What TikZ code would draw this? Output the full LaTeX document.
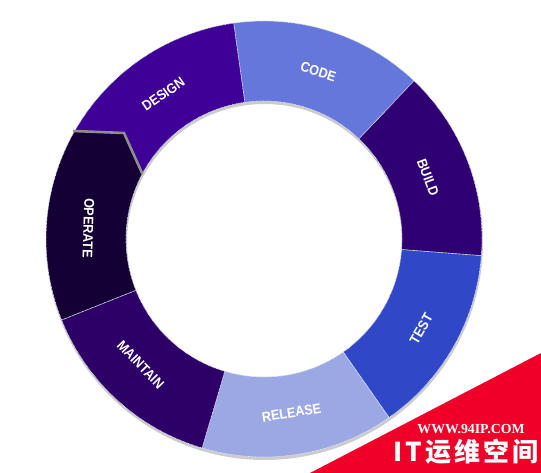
\documentclass[tikz,border=0pt]{standalone}
\usepackage{fontspec}
\setmainfont{Liberation Sans}
\newfontfamily\wmfont{Liberation Serif}
\newfontfamily\cjk{Noto Sans CJK SC}[LetterSpace=12]
\definecolor{cDesign}{HTML}{3F0097}
\definecolor{cCode}{HTML}{6677DB}
\definecolor{cBuild}{HTML}{2F0072}
\definecolor{cTest}{HTML}{3048C8}
\definecolor{cRelease}{HTML}{9BA8E4}
\definecolor{cMaintain}{HTML}{2D0068}
\definecolor{cOperate}{HTML}{140035}
\definecolor{wmred}{HTML}{F00028}
\definecolor{notchgray}{HTML}{8E8E8E}
\newcommand\seglabel[1]{\scalebox{0.9}[1]{#1}}
\tikzset{
  segborder/.style={draw=white!80!cCode, line width=0.7pt, dash pattern=on 0.7pt off 0.7pt},
  lbl/.style={text=white, font=\bfseries\fontsize{14}{14}\selectfont, inner sep=0pt},
}
\begin{document}
\begin{tikzpicture}[x=1pt,y=1pt]
\useasboundingbox (0,0) rectangle (541,473);
\fill[white] (0,0) rectangle (541,473);
\begin{scope}[shift={(264,234)}]
  % shadow
  \fill[gray!40, even odd rule] (0.5,-2.5) circle[radius=218.5] (0.5,-2.5) circle[radius=137.5];
  % CODE
  \path[fill=cCode, segborder] (98:218) arc[start angle=98,end angle=46.5,radius=218] -- (46.5:138) arc[start angle=46.5,end angle=98,radius=138] -- cycle;
  % BUILD
  \path[fill=cBuild, segborder] (46.5:218) arc[start angle=46.5,end angle=-4.4,radius=218] -- (-4.4:138) arc[start angle=-4.4,end angle=46.5,radius=138] -- cycle;
  % TEST
  \path[fill=cTest, segborder] (-4.4:218) arc[start angle=-4.4,end angle=-55,radius=218] -- (-55:138) arc[start angle=-55,end angle=-4.4,radius=138] -- cycle;
  % RELEASE
  \path[fill=cRelease, segborder] (-55:218) arc[start angle=-55,end angle=-106.5,radius=218] -- (-106.5:138) arc[start angle=-106.5,end angle=-55,radius=138] -- cycle;
  % MAINTAIN
  \path[fill=cMaintain, segborder] (-106.5:218) arc[start angle=-106.5,end angle=-158.2,radius=218] -- (-158.2:138) arc[start angle=-158.2,end angle=-106.5,radius=138] -- cycle;
  % OPERATE (with notch)
  \coordinate (p1) at (150.3:218);
  \coordinate (p2) at (-140,106);
  \coordinate (p3) at (151.8:138);
  \path[fill=cOperate, segborder] (201.8:218) arc[start angle=201.8,end angle=150.3,radius=218] -- (p2) -- (p3) arc[start angle=151.8,end angle=201.8,radius=138] -- cycle;
  % DESIGN
  \path[fill=cDesign, segborder] (150.3:218) arc[start angle=150.3,end angle=98,radius=218] -- (98:138) arc[start angle=98,end angle=151.8,radius=138] -- (p2) -- cycle;
  % notch line
  \draw[notchgray, line width=2.6pt, line join=miter] ([shift={(-1.5,0)}]p1) -- (p2) -- (p3);
  % labels
  \node[lbl, rotate=34.5] (design) at (124.8:176.5) {\seglabel{DESIGN}};
  \node[lbl, rotate=-17.9] (code) at (72:176) {\seglabel{CODE}};
  \node[lbl, rotate=-69.5] (build) at (20.5:175) {\seglabel{BUILD}};
  \node[lbl, rotate=60.3] (test) at (-29.7:181) {\seglabel{TEST}};
  \node[lbl, rotate=9] (release) at (-81:176) {\seglabel{RELEASE}};
  \node[lbl, rotate=-46] (maintain) at (225.5:176) {\seglabel{MAINTAIN}};
  \node[lbl, rotate=-92] (operate) at (176.5:176) {\seglabel{OPERATE}};
\end{scope}
% watermark
\fill[wmred] (310,0) -- (541,0) -- (541,120) -- cycle;
\node[text=white, font=\wmfont\bfseries\fontsize{13.8}{13.8}\selectfont, inner sep=0pt] (wmurl) at (471,44) {WWW.94IP.COM};
\node[text=white, font=\cjk\bfseries\fontsize{26}{26}\selectfont, inner sep=0pt] (wmname) at (466,21) {IT运维空间};
\end{tikzpicture}
\end{document}
